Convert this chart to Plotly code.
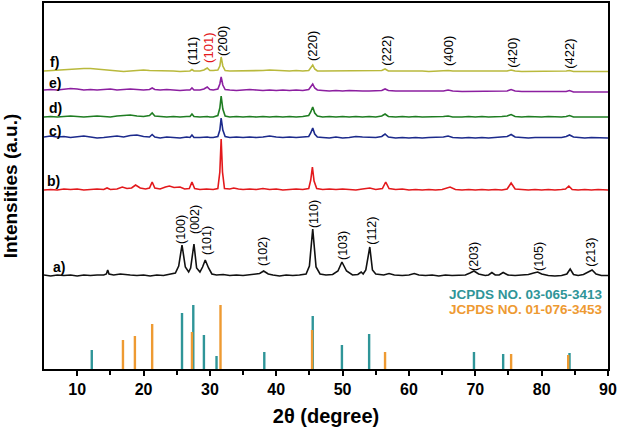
import plotly.graph_objects as go

# ---------------- data (2theta in degrees, intensity in a.u. above each pattern's own baseline) -------------
A_X = [5, 6, 7, 8, 9, 10, 11, 12, 13, 14, 14.4, 14.6, 14.8, 15.5, 16.5, 17, 18, 19, 20, 21, 22, 23, 24, 24.8,
       25.3, 25.8, 26.3, 26.8, 27.1, 27.6, 28.0, 28.5, 28.9, 29.3, 29.8, 30.3, 31, 32, 33, 34, 35, 36, 37, 37.5,
       38.1, 38.8, 39.5, 40.5, 41.5, 42.5, 43.5, 44.5, 45.0, 45.5, 46.0, 46.6, 47.5, 48.5, 49.3, 49.9, 50.6,
       51.5, 52.3, 52.8, 53.1, 53.5, 54.1, 54.5, 55, 55.5, 56.2, 57.0, 57.8, 59, 60, 60.8, 61.5, 62.5, 63.5,
       64.5, 65.5, 66.5, 67.5, 68.5, 69.2, 69.8, 70.5, 71.5, 72.0, 72.5, 73.0, 73.6, 74.2, 74.9, 76, 77, 78,
       78.8, 79.4, 80, 81, 82, 83, 83.8, 84.3, 84.8, 85.5, 86.3, 87.1, 87.6, 88.2, 89, 90]
A_Y = [1, 0, 1, 0.5, 1, 0, 1, 0.5, 1, 1, 2, 6, 2, 1, 2, 1.5, 1, 0.5, 1, 0, 1, 0.5, 1.5, 3,
       10, 31, 9, 4, 8, 32, 8, 4, 9, 16, 8, 2, 1, 1.5, 0.5, 1, 0.5, 1, 1.5, 2.5,
       5, 2, 1, 0, 1, 0.5, 1, 2, 10, 47, 9, 2, 1, 1.5, 5, 14, 5,
       1, 1.5, 4, 2, 6, 29, 6, 2, 1.5, 1, 2.5, 1, 0.5, 1, 2.5, 1, 0.5, 1,
       0, 1, 0.5, 1, 1, 3, 5, 2, 0.5, 1, 3.5, 1, 1, 3.5, 1, 0.5, 1, 1.5,
       3, 4, 2, 0.5, 0, 0.5, 2, 7, 1.5, 0.5, 1.5, 4, 6, 2, 0.5, 0.5]

B_X = [5, 6, 7, 8, 9, 10, 11, 12, 13, 14, 14.5, 15, 16, 16.8, 17.5, 18.2, 18.8, 19.5, 20.3, 20.9, 21.3, 21.7,
       22.5, 23.3, 23.9, 24.6, 25.5, 26.2, 26.9, 27.3, 27.7, 28.5, 29.5, 30.5, 31.2, 31.5, 31.7, 31.9, 32.2,
       33, 33.6, 34.3, 35, 36, 37, 38, 39, 40, 41, 42, 43, 44, 44.9, 45.2, 45.45, 45.7, 46.1, 47, 48, 49,
       50, 51, 52, 53, 54.1, 55, 56.0, 56.5, 57.0, 58, 59, 60, 61, 62, 63, 64, 65, 66.2, 67, 68, 69, 70,
       71, 72, 73, 74, 74.8, 75.4, 76, 77, 78, 79, 80, 81, 82, 83, 83.6, 84.1, 84.6, 85.5, 86.5, 87.5, 88.5, 90]
B_Y = [0, 0.5, 0, 1, 0.5, 1, 0, 0.5, 1, 0.5, 2, 0.5, 1, 3, 1.5, 2, 5, 2, 1, 2, 8, 2,
       1, 3, 4, 2.5, 3, 1, 1.5, 8, 1.5, 0.5, 1, 0.5, 1.5, 18, 51, 18, 1.5,
       1, 2, 1, 0.5, 1, 0.5, 1.5, 0.5, 1, 0, 0.5, 1, 0.5, 1.5, 10, 23, 9, 1.5, 0.5, 1, 0.5,
       1, 0.5, 0, 1, 2, 0.5, 1.5, 8, 1.5, 0.5, 1, 0, 0.5, 0, 0.5, 0, 0.5, 3, 0.5, 0, 0.5, 0,
       0.5, 0, 0.5, 0, 1, 7, 1, 0.5, 0, 0.5, 0, 0.5, 0, 0.5, 1, 4, 0.5, 0, 0.5, 0, 0.5, 0]

# patterns c-f share one sampling grid
CF_X = [5, 6, 7, 8, 9, 10, 11, 12, 13, 14, 15, 16, 17, 18, 19, 20, 20.9, 21.3, 21.7, 22.5, 23.5, 24.5, 25.5,
        26.5, 27.0, 27.3, 27.6, 28.5, 29.1, 29.6, 30.0, 30.5, 31.2, 31.5, 31.7, 31.95, 32.3, 33, 34, 35, 36,
        37, 38, 39, 40, 41, 42, 43, 44, 44.9, 45.2, 45.5, 45.8, 46.2, 47, 48, 49, 50, 51, 52, 53, 54, 55,
        55.9, 56.4, 56.9, 58, 59, 60, 61, 62, 63, 64, 65.2, 65.9, 66.6, 68, 69, 70, 71, 72, 73, 74, 74.8,
        75.4, 76, 77, 78, 79, 80, 81, 82, 83, 83.7, 84.2, 84.8, 85.5, 86.5, 87.5, 88.5, 90]
C_Y = [1, 2, 1, 1.5, 0.5, 1, 2, 1, 0, 0.5, 1.5, 2, 1, 2.5, 3, 1.5, 1, 3.5, 1, 0, 1, 0.5, 0,
       1, 0.5, 3, 0.5, 0.5, 1, 1, 0.5, 0.5, 1.5, 8, 20, 8, 1.5, 0.5, 1, 0.5, 1,
       0.5, 1, 2, 1, 0.5, 1, 0.5, 1, 1.5, 5, 10, 4, 1, 0.5, 0, 1, 0, 0.5, 1.5, 1, 0.5, 0.5,
       1.5, 4, 1, 0, 0.5, 0, 0.5, 0, 0.5, 0.5, 1, 2, 0.5, 0, 0.5, 0, 0.5, 0, 0.5, 0.5, 1.5,
       3.5, 1, 0.5, 0, 0.5, 0.5, 0, 0.5, 0.5, 1.5, 3, 1, 0.5, 0, 0.5, 0, 0]
D_Y = [0, 0.5, 0, 0.5, 1, 0.5, 0, 0.5, 1, 0.5, 0, 1, 1.5, 2, 1, 0.5, 1.5, 4, 1, 0.5, 0, 0.5, 0,
       0.5, 0.5, 3, 0.5, 0, 0.5, 0.5, 0, 0, 1.5, 9, 21, 8, 1, 0, 0.5, 0, 0.5,
       0, 0.5, 0, 0.5, 0, 0.5, 0, 0.5, 1.5, 5, 10, 4, 1, 0, 0.5, 0, 0.5, 0, 0.5, 0, 0.5, 0,
       1, 3, 0.5, 0, 0.5, 0, 0.5, 0, 0, 0.5, 0.5, 1, 0, 0, 0.5, 0, 0.5, 0, 0, 0.5, 1,
       2.5, 0.5, 0, 0.5, 0, 0, 0.5, 0, 0, 0.5, 1.5, 0, 0, 0.5, 0, 0, 0]
E_Y = [0, 0.5, 0, 1, 1.5, 1, 0, 0.5, 0, 0.5, 1, 0, 0.5, 1, 0.5, 0, 0.5, 2, 0.5, 0, 0.5, 0, -0.5,
       0, 0, 2, 0, 0, 1, 3, 0.5, 0, 1, 6, 13, 5, 0.5, 0, -0.5, 0, 0.5,
       0, -0.5, 0, -0.5, 0, -0.5, 0, -0.5, 0.5, 3, 6, 2, 0, -0.5, -1, -0.5, -1, -0.5, -1, -1, -1, -1,
       -0.5, 1, -0.5, -1, -1, -1.5, -1, -1.5, -1.5, -1, -1, 0, -1, -1.5, -1.5, -1, -1.5, -1.5, -1.5, -1.5, -1,
       0.5, -1, -1.5, -1.5, -2, -1.5, -2, -2, -2, -1.5, -0.5, -2, -2, -2, -2, -2, -2]
F_Y = [0, 0.5, 0.5, 1, 1.5, 2, 2.5, 2.5, 2, 1.5, 1, 0, -0.5, 0, 0.5, 1, 0.5, 0.5, 0, 0, 0.5, 0, -0.5,
       0, 0, 1.5, 0, 0, 1, 3, 0.5, 0.5, 1, 5, 14, 5, 0.5, 0, 0, 0.5, 0.5,
       0, 0.5, 1, 0.5, 0, 0, 0.5, 0, 0.5, 3, 6, 2, 0, 0, 0, 0.5, 0, 0, 0, 0, 0, 0,
       0.5, 2, 0, 0, 0, 0.5, 0, 0, -0.5, 0, 0, 0.5, 0, 0, -0.5, 0, 0, -0.5, 0, 0, 0,
       1, 0, -0.5, -0.5, 0, -0.5, -0.5, -0.5, -0.5, 0, 0.5, -0.5, -0.5, -0.5, -0.5, -0.5, -0.5]

# reference patterns (stick positions / relative intensities)
TEAL_POS = [12.2, 25.8, 27.5, 29.1, 31.0, 38.2, 45.5, 49.9, 54.0, 69.8, 74.2, 84.2]
TEAL_INT = [19, 56, 64, 34, 13, 17, 53, 24, 35, 17, 15, 16]
ORANGE_POS = [16.9, 18.7, 21.3, 27.3, 31.6, 45.4, 56.4, 75.4, 84.0]
ORANGE_INT = [29, 33, 45, 37, 64, 39, 17, 15, 14]

LOW_HKL = ["(100)", "(002)", "(101)", "(102)", "(110)", "(103)", "(112)", "(203)", "(105)", "(213)"]
LOW_HKL_POS = [25.65, 27.76, 29.57, 38.0, 45.7, 50.06, 54.4, 69.8, 79.6, 87.4]
TOP_HKL = ["(111)", "(101)", "(200)", "(220)", "(222)", "(400)", "(420)", "(422)"]
TOP_HKL_POS = [27.3, 29.7, 31.83, 45.4, 56.5, 65.9, 75.5, 84.1]

X_TICKS = [10, 20, 30, 40, 50, 60, 70, 80, 90]

# ---------------- layout / style ----------------
OFFSET = {"a)": 93, "b)": 179, "c)": 231, "d)": 252, "e)": 279, "f)": 298}
COLORS = {"a)": "#111111", "b)": "#e3191c", "c)": "#1c2a8c", "d)": "#1f7d22",
          "e)": "#8c1fa0", "f)": "#b9b93c"}
TEAL = "#2f9598"
ORANGE = "#ee9a32"
LOW_LABEL_Y = [139, 149, 128, 118, 155, 124, 138, 113, 113, 117]
TOP_LABEL_Y = [318, 321, 328, 323, 318, 318, 316, 315]
TOP_LABEL_COL = ["black", "#e3191c", "black", "black", "black", "black", "black", "black"]
NAME_POS = {"a)": (6.1, 102), "b)": (5.15, 188), "c)": (5.45, 238), "d)": (5.45, 261),
            "e)": (5.45, 286), "f)": (5.6, 307)}

FONT = "Liberation Sans, Arial, sans-serif"

series = [("a)", A_X, A_Y), ("b)", B_X, B_Y), ("c)", CF_X, C_Y),
          ("d)", CF_X, D_Y), ("e)", CF_X, E_Y), ("f)", CF_X, F_Y)]

fig = go.Figure()


def sticks(pos, inten):
    xs, ys = [], []
    for p, h in zip(pos, inten):
        xs += [p, p, None]
        ys += [0, h, None]
    return xs, ys


tx, ty = sticks(TEAL_POS, TEAL_INT)
fig.add_trace(go.Scatter(x=tx, y=ty, mode="lines", line=dict(color=TEAL, width=2.4),
                         hoverinfo="skip", showlegend=False))
ox, oy = sticks(ORANGE_POS, ORANGE_INT)
fig.add_trace(go.Scatter(x=ox, y=oy, mode="lines", line=dict(color=ORANGE, width=2.4),
                         hoverinfo="skip", showlegend=False))

for name, xs, ys in series:
    fig.add_trace(go.Scatter(x=xs, y=[v + OFFSET[name] for v in ys], mode="lines",
                             line=dict(color=COLORS[name], width=1.6),
                             name=name, showlegend=False))

ann = []
for name, (nx, ny) in NAME_POS.items():
    ann.append(dict(x=nx, y=ny, text=name, showarrow=False, xanchor="left", yanchor="middle",
                    font=dict(family=FONT, size=14, color="black", weight="bold")))
for t, p, yy in zip(LOW_HKL, LOW_HKL_POS, LOW_LABEL_Y):
    ann.append(dict(x=p, y=yy, text=t, showarrow=False, textangle=-90,
                    xanchor="center", yanchor="middle",
                    font=dict(family=FONT, size=12.5, color="black")))
for t, p, yy, c in zip(TOP_HKL, TOP_HKL_POS, TOP_LABEL_Y, TOP_LABEL_COL):
    ann.append(dict(x=p, y=yy, text=t, showarrow=False, textangle=-90,
                    xanchor="center", yanchor="middle",
                    font=dict(family=FONT, size=13, color=c)))
ann.append(dict(x=89.6, y=75, text="JCPDS NO. 03-065-3413", showarrow=False, xanchor="right",
                yanchor="middle", font=dict(family=FONT, size=13.5, color=TEAL, weight="bold")))
ann.append(dict(x=89.6, y=60, text="JCPDS NO. 01-076-3453", showarrow=False, xanchor="right",
                yanchor="middle", font=dict(family=FONT, size=13.5, color=ORANGE, weight="bold")))

fig.update_layout(
    width=620, height=432,
    margin=dict(l=44, r=12, t=3, b=63, autoexpand=False),
    paper_bgcolor="white", plot_bgcolor="white",
    annotations=ann,
    xaxis=dict(range=[5, 90], tickvals=X_TICKS, ticks="outside", ticklen=5, tickwidth=1.5,
               tickcolor="black", showline=True, linewidth=1.8, linecolor="black", mirror=True,
               showgrid=False, zeroline=False,
               minor=dict(tickvals=[15, 25, 35, 45, 55, 65, 75, 85], ticks="outside", ticklen=4,
                          tickwidth=1.5, tickcolor="black"),
               tickfont=dict(family=FONT, size=16, color="black", weight="bold"),
               title=dict(text="2θ (degree)", standoff=12,
                          font=dict(family=FONT, size=20, color="black", weight="bold"))),
    yaxis=dict(range=[0, 366], showticklabels=False, ticks="", showline=True, linewidth=1.8,
               linecolor="black", mirror=True, showgrid=False, zeroline=False,
               title=dict(text="Intensities (a.u.)", standoff=24,
                          font=dict(family=FONT, size=19, color="black", weight="bold"))),
)

fig.write_html("out.html", config={"displayModeBar": False},
               post_script="document.body.style.margin='0';document.body.style.overflow='hidden';")
